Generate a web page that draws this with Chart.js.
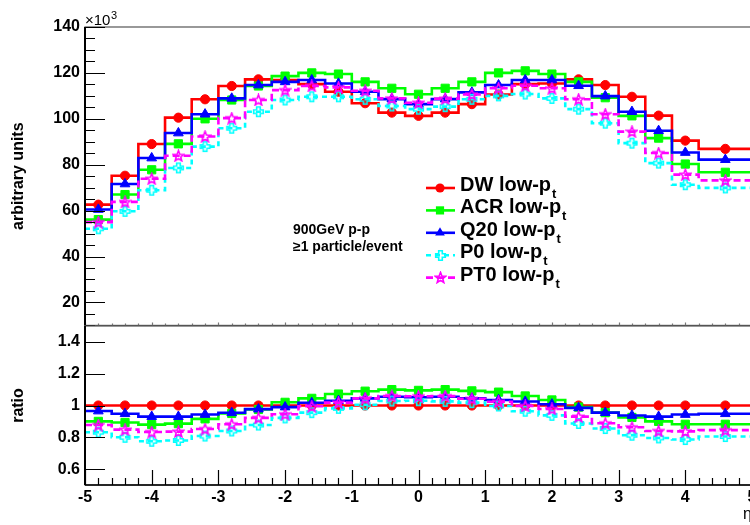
<!DOCTYPE html>
<html><head><meta charset="utf-8">
<script src="https://cdn.jsdelivr.net/npm/chart.js@4.4.1/dist/chart.umd.min.js"></script>
<style>
html,body{margin:0;padding:0;background:#fff;overflow:hidden;width:750px;height:525px;}
#wrap{position:relative;width:750px;height:525px;overflow:hidden;background:#fff;}
#c1{position:absolute;left:0;top:0;width:820px;height:340px;}
#c2{position:absolute;left:0;top:300px;width:820px;height:225px;}
</style></head><body>
<div id="wrap"><canvas id="c1" width="820" height="340"></canvas><canvas id="c2" width="820" height="225"></canvas></div>
<script>
// ---------- data ----------
const binEdges = [-5.0,-4.6,-4.2,-3.8,-3.4,-3.0,-2.6,-2.2,-1.8,-1.4,-1.0,-0.6,-0.2,0.2,0.6,1.0,1.4,1.8,2.2,2.6,3.0,3.4,3.8,4.2,5.0];
const binCenters = [-4.8,-4.4,-4.0,-3.6,-3.2,-2.8,-2.4,-2.0,-1.6,-1.2,-0.8,-0.4,0.0,0.4,0.8,1.2,1.6,2.0,2.4,2.8,3.2,3.6,4.0,4.6];
const seriesNames = ['DW low-p', 'ACR low-p', 'Q20 low-p', 'P0 low-p', 'PT0 low-p'];
const seriesSub = 't';
// top panel (x10^3)
const dwValues  = [62.6, 75.2, 89.0, 100.5, 108.5, 114.3, 117.2, 116.9, 115.1, 111.8, 106.8, 102.7, 101.3, 102.7, 106.4, 110.6, 115.1, 115.4, 117.2, 114.7, 109.6, 101.4, 90.5, 86.9];
const acrValues = [56.1, 67.0, 77.8, 89.1, 100.0, 108.2, 114.3, 118.6, 120.0, 119.5, 116.1, 113.3, 110.7, 113.3, 116.1, 120.0, 120.9, 119.5, 116.1, 109.2, 101.3, 91.6, 80.3, 76.7];
const q20Values = [60.5, 71.6, 82.9, 93.8, 102.0, 108.9, 114.7, 116.1, 116.9, 115.4, 111.8, 108.6, 106.4, 108.6, 111.5, 114.7, 116.9, 116.9, 114.4, 109.9, 103.1, 94.8, 85.3, 82.2];
const p0Values  = [52.1, 59.7, 68.9, 78.6, 87.9, 95.9, 103.1, 108.2, 109.6, 109.6, 108.5, 105.6, 104.2, 105.3, 108.5, 110.0, 110.8, 108.9, 104.2, 98.1, 89.4, 80.7, 71.3, 69.9];
const pt0Values = [55.0, 63.8, 73.9, 83.9, 92.3, 100.3, 108.2, 112.5, 114.3, 113.7, 112.2, 108.9, 107.0, 108.8, 110.6, 113.3, 114.4, 113.3, 108.5, 102.0, 94.4, 85.1, 75.7, 73.2];
// ratio panel
const dwRatio  = [1, 1, 1, 1, 1, 1, 1, 1, 1, 1, 1, 1, 1, 1, 1, 1, 1, 1, 1, 1, 1, 1, 1, 1];
const acrRatio = [0.900, 0.893, 0.880, 0.886, 0.916, 0.950, 0.975, 1.020, 1.045, 1.072, 1.090, 1.100, 1.095, 1.100, 1.092, 1.084, 1.060, 1.035, 0.990, 0.955, 0.925, 0.900, 0.882, 0.882];
const q20Ratio = [0.965, 0.948, 0.930, 0.930, 0.943, 0.954, 0.977, 0.990, 1.017, 1.030, 1.045, 1.055, 1.052, 1.055, 1.045, 1.035, 1.025, 1.008, 0.985, 0.955, 0.937, 0.930, 0.943, 0.948];
const p0Ratio  = [0.832, 0.800, 0.775, 0.780, 0.808, 0.840, 0.877, 0.922, 0.955, 0.982, 1.005, 1.028, 1.030, 1.026, 1.018, 0.997, 0.964, 0.938, 0.887, 0.855, 0.813, 0.796, 0.786, 0.805];
const pt0Ratio = [0.877, 0.848, 0.833, 0.836, 0.852, 0.882, 0.922, 0.945, 0.995, 1.018, 1.045, 1.060, 1.058, 1.059, 1.042, 1.024, 0.997, 0.978, 0.930, 0.888, 0.863, 0.840, 0.837, 0.845];
const topTicks = [20, 40, 60, 80, 100, 120, 140];
const ratioTicks = [0.6, 0.8, 1, 1.2, 1.4];
const xTicks = [-5, -4, -3, -2, -1, 0, 1, 2, 3, 4, 5];

// ---------- styles ----------
const FONT = "'Liberation Sans', Arial, Helvetica, sans-serif";
function makeMarker(kind, color) {
  const s = 13, c = document.createElement('canvas');
  c.width = s; c.height = s;
  const g = c.getContext('2d'), cx = s / 2, cy = s / 2;
  g.strokeStyle = color; g.lineWidth = 1.6; g.lineJoin = 'miter';
  g.beginPath();
  if (kind === 'cross') {
    const w = 1.8, L = 4.8;
    const p = [[-w,-L],[w,-L],[w,-w],[L,-w],[L,w],[w,w],[w,L],[-w,L],[-w,w],[-L,w],[-L,-w],[-w,-w]];
    p.forEach((q, i) => i ? g.lineTo(cx + q[0], cy + q[1]) : g.moveTo(cx + q[0], cy + q[1]));
  } else {
    for (let k = 0; k < 10; k++) {
      const r = k % 2 === 0 ? 5.6 : 2.4;
      const a = -Math.PI / 2 + k * Math.PI / 5;
      const px = cx + r * Math.cos(a), py = cy + 0.5 + r * Math.sin(a);
      k ? g.lineTo(px, py) : g.moveTo(px, py);
    }
  }
  g.closePath(); g.stroke();
  return c;
}
const styles = [
  {color: '#ff0000', dash: [], marker: 'circle', radius: 4.6},
  {color: '#00ff00', dash: [], marker: 'rect', radius: 5.8},
  {color: '#0000ff', dash: [], marker: 'triangle', radius: 5.6},
  {color: '#00ffff', dash: [5, 4], img: makeMarker('cross', '#00ffff')},
  {color: '#ff00ff', dash: [7, 4], img: makeMarker('star', '#ff00ff')}
];
const LW = 2.6;

function stepPoints(vals) {
  const pts = vals.map((v, i) => ({x: binEdges[i], y: v}));
  pts.push({x: binEdges[binEdges.length - 1], y: vals[vals.length - 1]});
  return pts;
}
function markerPoints(vals) { return vals.map((v, i) => ({x: binCenters[i], y: v})); }

function buildDatasets(allVals) {
  const ds = [];
  allVals.forEach((vals, i) => {
    const st = styles[i];
    ds.push({
      label: seriesNames[i] + seriesSub, data: stepPoints(vals), stepped: 'before',
      borderColor: st.color, borderWidth: LW, borderDash: st.dash, pointRadius: 0,
      fill: false, borderCapStyle: 'butt', borderJoinStyle: 'miter', order: 20 - 2 * i
    });
    ds.push({
      label: seriesNames[i] + seriesSub + ' markers', data: markerPoints(vals), showLine: false,
      pointStyle: st.img ? st.img : st.marker, pointRadius: st.img ? 6 : st.radius,
      pointBackgroundColor: st.color, pointBorderColor: st.color, pointBorderWidth: st.img ? 0 : 1,
      order: 19 - 2 * i
    });
  });
  return ds;
}

function drawLegendMarker(ctx, st, x, y) {
  if (st.img) { ctx.drawImage(st.img, Math.round(x - st.img.width / 2), Math.round(y - st.img.height / 2)); return; }
  ctx.fillStyle = st.color; ctx.beginPath();
  const r = st.radius;
  if (st.marker === 'circle') ctx.arc(x, y, r, 0, 2 * Math.PI);
  else if (st.marker === 'rect') { const h = r * Math.SQRT1_2; ctx.rect(x - h, y - h, 2 * h, 2 * h); }
  else {
    const t = 2 * Math.PI / 3;
    ctx.moveTo(x, y - r);
    ctx.lineTo(x + Math.sin(t) * r, y - Math.cos(t) * r);
    ctx.lineTo(x + Math.sin(2 * t) * r, y - Math.cos(2 * t) * r);
    ctx.closePath();
  }
  ctx.fill();
}

// ROOT-style frame and inward ticks
const rootFrame = {
  id: 'rootFrame',
  afterDraw(chart, args, o) {
    const {ctx, chartArea: a} = chart;
    const xs = chart.scales.x, ys = chart.scales.y;
    ctx.save();
    ctx.setLineDash([]);
    ctx.strokeStyle = '#555'; ctx.lineWidth = 1.2;
    ctx.strokeRect(a.left, a.top, a.right - a.left, a.bottom - a.top);
    ctx.strokeStyle = '#000'; ctx.lineWidth = 1.2;
    ctx.beginPath();
    for (let v = o.yMin; v <= o.yMax + 1e-9; v += o.yMinor) {
      const py = Math.round(ys.getPixelForValue(v)) + 0.5;
      const isMajor = Math.abs(v / o.yMajor - Math.round(v / o.yMajor)) < 1e-6;
      if (!isMajor && !o.yMinorShow) continue;
      ctx.moveTo(a.left, py); ctx.lineTo(a.left + (isMajor ? 20 : 10), py);
    }
    ctx.stroke();
    ctx.strokeStyle = o.xTickColor; ctx.beginPath();
    for (let k = 0; k <= 50; k++) {
      const v = -5 + k * 0.2;
      const px = Math.round(xs.getPixelForValue(v)) + 0.5;
      const isMajor = k % 5 === 0;
      const len = isMajor ? o.xMajorLen : o.xMinorLen;
      ctx.moveTo(px, a.bottom); ctx.lineTo(px, a.bottom - len);
    }
    ctx.stroke();
    ctx.strokeStyle = '#000'; ctx.lineWidth = 2;
    ctx.beginPath(); ctx.moveTo(a.left, a.top); ctx.lineTo(a.left, a.bottom); ctx.stroke();
    if (o.bottomBlack) { ctx.lineWidth = 1.6; ctx.beginPath(); ctx.moveTo(a.left, a.bottom); ctx.lineTo(a.right, a.bottom); ctx.stroke(); }
    ctx.restore();
  }
};

const overlay = {
  id: 'overlay',
  afterDraw(chart) {
    const ctx = chart.ctx;
    ctx.save();
    ctx.fillStyle = '#000';
    ctx.font = '15px ' + FONT; ctx.textBaseline = 'alphabetic'; ctx.textAlign = 'left';
    ctx.fillText('\u00d710', 85, 25);
    ctx.font = '11px ' + FONT; ctx.fillText('3', 111, 19);
    ctx.font = 'bold 14px ' + FONT;
    ctx.fillText('900GeV p-p', 293, 234);
    ctx.fillText('\u22651 particle/event', 293, 251);
    for (let i = 0; i < seriesNames.length; i++) {
      const st = styles[i];
      const y = 188 + 22.4 * i;
      ctx.strokeStyle = st.color; ctx.lineWidth = LW; ctx.setLineDash(st.dash);
      ctx.beginPath(); ctx.moveTo(426, y); ctx.lineTo(455, y); ctx.stroke();
      ctx.setLineDash([]);
      drawLegendMarker(ctx, st, 440, y);
      ctx.fillStyle = '#000';
      ctx.font = 'bold 20px ' + FONT;
      ctx.fillText(seriesNames[i], 460, y + 3);
      const w = ctx.measureText(seriesNames[i]).width;
      ctx.font = 'bold 13px ' + FONT;
      ctx.fillText(seriesSub, 460 + w + 1, y + 10);
    }
    ctx.restore();
  }
};

const tickFont = {family: FONT, weight: 'bold', size: 16};
const titleFont = {family: FONT, weight: 'bold', size: 16};

new Chart(document.getElementById('c1'), {
  type: 'line',
  data: {datasets: buildDatasets([dwValues, acrValues, q20Values, p0Values, pt0Values])},
  options: {
    responsive: false, animation: false, devicePixelRatio: 1,
    layout: {padding: {left: 0, top: 27, right: 68, bottom: 14}},
    plugins: {
      legend: {display: false}, tooltip: {enabled: false},
      rootFrame: {yMin: 10, yMax: 140, yMajor: 20, yMinor: 5, yMinorShow: true, xMajorLen: 3, xMinorLen: 2, xTickColor: '#777', bottomBlack: false}
    },
    scales: {
      x: {type: 'linear', min: -5, max: 5, display: false},
      y: {
        type: 'linear', min: 10, max: 140,
        afterFit: s => { s.width = 85; },
        afterBuildTicks: s => { s.ticks = topTicks.map(v => ({value: v})); },
        grid: {display: false, drawTicks: false}, border: {display: false},
        ticks: {font: tickFont, color: '#000', padding: 5, callback: v => String(v)},
        title: {display: true, text: 'arbitrary units', font: titleFont, color: '#000', padding: {top: 9, bottom: 0}}
      }
    }
  },
  plugins: [rootFrame, overlay]
});

new Chart(document.getElementById('c2'), {
  type: 'line',
  data: {datasets: buildDatasets([dwRatio, acrRatio, q20Ratio, p0Ratio, pt0Ratio])},
  options: {
    responsive: false, animation: false, devicePixelRatio: 1,
    layout: {padding: {left: 0, top: 26, right: 68, bottom: 0}},
    plugins: {
      legend: {display: false}, tooltip: {enabled: false},
      rootFrame: {yMin: 0.6, yMax: 1.4, yMajor: 0.2, yMinor: 0.2, yMinorShow: false, xMajorLen: 15, xMinorLen: 7, xTickColor: '#000', bottomBlack: true}
    },
    scales: {
      x: {
        type: 'linear', min: -5, max: 5,
        afterFit: s => { s.height = 40; },
        afterBuildTicks: s => { s.ticks = xTicks.map(v => ({value: v})); },
        grid: {display: false, drawTicks: false}, border: {display: false},
        ticks: {font: tickFont, color: '#000', padding: 3, maxRotation: 0, autoSkip: false, callback: v => String(v)},
        title: {display: true, text: '\u03b7', align: 'end', font: {family: FONT, size: 16}, color: '#000', padding: {top: 0, bottom: 1}}
      },
      y: {
        type: 'linear', min: 0.5, max: 1.5,
        afterFit: s => { s.width = 85; },
        afterBuildTicks: s => { s.ticks = ratioTicks.map(v => ({value: v})); },
        grid: {display: false, drawTicks: false}, border: {display: false},
        ticks: {font: tickFont, color: '#000', padding: 5, callback: v => String(v)},
        title: {display: true, text: 'ratio', font: titleFont, color: '#000', padding: {top: 9, bottom: 0}}
      }
    }
  },
  plugins: [rootFrame]
});
</script>
</body></html>
